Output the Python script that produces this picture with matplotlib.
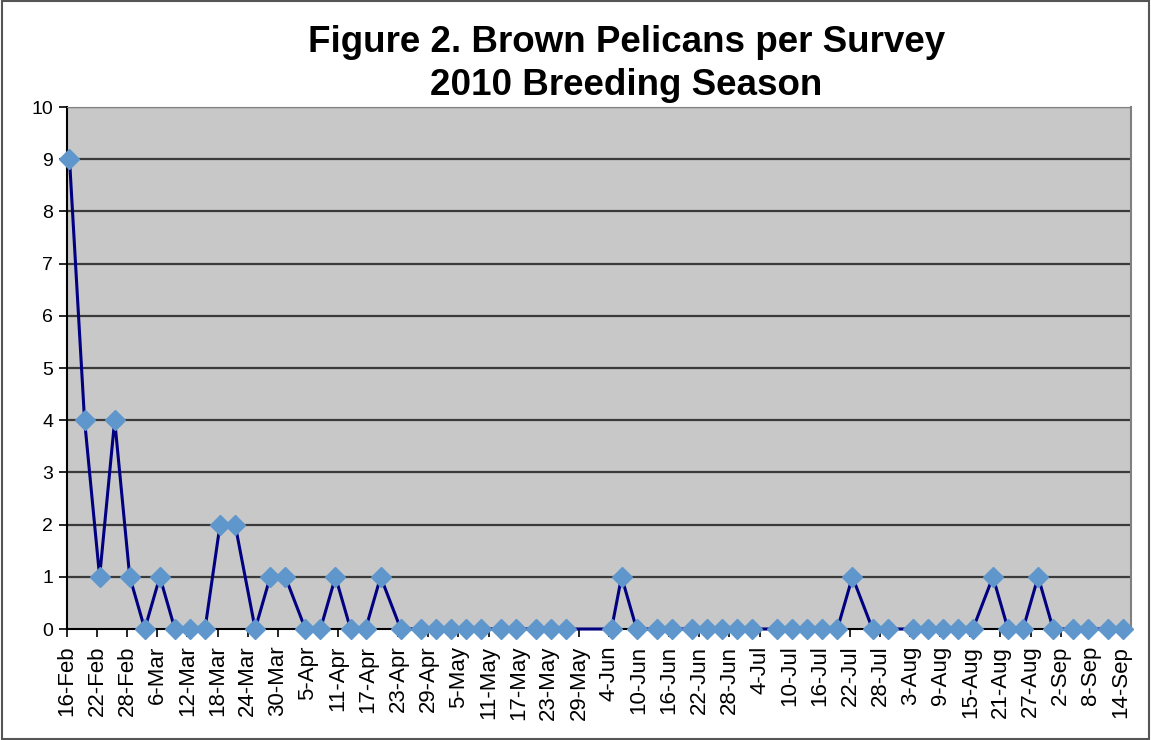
import pandas as pd
import matplotlib
matplotlib.use("Agg")
import matplotlib.pyplot as plt
from matplotlib.patches import Rectangle

# survey dates (2010) and number of brown pelicans counted
survey_dates = ["02-16", "02-19", "02-22", "02-25", "02-28", "03-03", "03-06", "03-09",
                "03-12", "03-15", "03-18", "03-21", "03-25", "03-28", "03-31", "04-04",
                "04-07", "04-10", "04-13", "04-16", "04-19", "04-23", "04-27", "04-30",
                "05-03", "05-06", "05-09", "05-13", "05-16", "05-20", "05-23", "05-26",
                "06-04", "06-06", "06-09", "06-13", "06-16", "06-20", "06-23", "06-26",
                "06-29", "07-02", "07-07", "07-10", "07-13", "07-16", "07-19", "07-22",
                "07-26", "07-29", "08-03", "08-06", "08-09", "08-12", "08-15", "08-19",
                "08-22", "08-25", "08-28", "08-31", "09-04", "09-07", "09-11", "09-14"]
pelicans = [9, 4, 1, 4, 1, 0, 1, 0,
            0, 0, 2, 2, 0, 1, 1, 0,
            0, 1, 0, 0, 1, 0, 0, 0,
            0, 0, 0, 0, 0, 0, 0, 0,
            0, 1, 0, 0, 0, 0, 0, 0,
            0, 0, 0, 0, 0, 0, 0, 1,
            0, 0, 0, 0, 0, 0, 0, 1,
            0, 0, 1, 0, 0, 0, 0, 0]
y_ticks = [0, 1, 2, 3, 4, 5, 6, 7, 8, 9, 10]

dates = pd.to_datetime(["2010-" + d for d in survey_dates]) + pd.Timedelta(hours=12)

fig = plt.figure(figsize=(11.51, 7.4), dpi=100)
ax = fig.add_axes([0.0582, 0.15, 0.9244, 0.7054])
ax.set_facecolor("#c8c8c8")

for v in y_ticks[1:]:
    ax.axhline(v, color="#3a3a3a", lw=1.6, zorder=1)

ax.plot(dates, pelicans, color="#000080", lw=2.2, marker="D", markersize=10,
        markerfacecolor="#5f96cc", markeredgecolor="#5f96cc", zorder=3, clip_on=False)

ax.set_ylim(0, 10)
ax.set_yticks(y_ticks)
start = pd.Timestamp("2010-02-16")
ax.set_xlim(start, pd.Timestamp("2010-09-16"))
xt = pd.date_range(start, "2010-09-14", freq="6D")
ax.set_xticks(xt)
ax.set_xticklabels([f"{d.day}-{d.strftime('%b')}" for d in xt], rotation=90)

ax.tick_params(axis="x", labelsize=16, length=6, width=1.2, direction="out", pad=6)
ax.tick_params(axis="y", labelsize=14, length=6, width=1.2, direction="out", pad=4)
for lab in ax.get_xticklabels() + ax.get_yticklabels():
    lab.set_family("Liberation Sans")

ax.spines["left"].set_color("black")
ax.spines["left"].set_linewidth(1.5)
ax.spines["bottom"].set_color("black")
ax.spines["bottom"].set_linewidth(1.5)
ax.spines["top"].set_color("#808080")
ax.spines["right"].set_color("#808080")
ax.spines["right"].set_linewidth(1.5)

fig.text(0.544, 0.913, "Figure 2. Brown Pelicans per Survey\n2010 Breeding Season",
         ha="center", va="center", fontsize=26.5, fontweight="bold",
         family="Liberation Sans", linespacing=1.3)

fig.patches.append(Rectangle((0.002, 0.002), 0.996, 0.996, transform=fig.transFigure,
                             fill=False, edgecolor="#555555", lw=1.5))

fig.savefig("out.png", dpi=100)
